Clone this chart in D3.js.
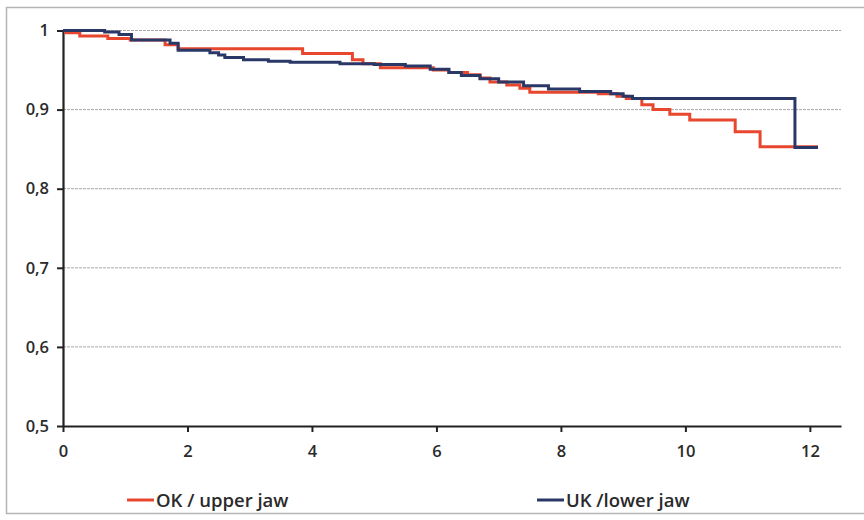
<!DOCTYPE html>
<html>
<head>
<meta charset="utf-8">
<script src="https://cdn.jsdelivr.net/npm/d3@7"></script>
<style>
  html, body { margin: 0; padding: 0; background: #fff; }
  svg { display: block; }
  text { font-family: "Open Sans", "DejaVu Sans", sans-serif; font-weight: 600; }
</style>
</head>
<body>
<svg id="chart" width="864" height="520"></svg>
<script>
// ---- data ----
const xTicks = [0, 2, 4, 6, 8, 10, 12];
const yTicks = [0.5, 0.6, 0.7, 0.8, 0.9, 1.0];
const yTickLabels = ["0,5", "0,6", "0,7", "0,8", "0,9", "1"];

const seriesNames = ["OK / upper jaw", "UK /lower jaw"];

const redTime = [0, 0.05, 0.27, 0.72, 1.08, 1.64, 1.85, 3.85, 4.65, 4.82, 5.1, 5.95, 6.2, 6.5, 6.7, 6.86, 7.13, 7.34, 7.5, 8.6, 8.9, 9.05, 9.3, 9.48, 9.75, 10.07, 10.8, 11.2, 12.13];
const redSurv = [1.0, 0.997, 0.993, 0.990, 0.988, 0.982, 0.977, 0.971, 0.963, 0.958, 0.953, 0.950, 0.947, 0.944, 0.940, 0.935, 0.931, 0.927, 0.922, 0.920, 0.917, 0.914, 0.906, 0.900, 0.894, 0.887, 0.872, 0.853, 0.853];

const blueTime = [0, 0.67, 0.9, 1.1, 1.72, 1.85, 2.36, 2.5, 2.6, 2.9, 3.3, 3.65, 4.45, 5.0, 5.5, 5.9, 6.2, 6.4, 6.7, 7.0, 7.4, 7.8, 8.3, 8.8, 9.0, 9.15, 11.76, 12.13];
const blueSurv = [1.0, 0.998, 0.995, 0.988, 0.984, 0.975, 0.972, 0.969, 0.966, 0.963, 0.961, 0.960, 0.958, 0.957, 0.955, 0.951, 0.947, 0.943, 0.939, 0.935, 0.930, 0.926, 0.923, 0.920, 0.917, 0.914, 0.852, 0.852];

const colors = ["#e8472e", "#2a3868"];

// ---- drawing ----
const svg = d3.select("#chart");

// outer frame
svg.append("rect")
  .attr("x", 6.5).attr("y", 7.5)
  .attr("width", 880).attr("height", 506)
  .attr("fill", "#fff")
  .attr("stroke", "#b5b5b5").attr("stroke-width", 1.5);

const x = d3.scaleLinear().domain([0, 12.5]).range([63, 841]);
const y = d3.scaleLinear().domain([0.5, 1.0]).range([426, 30.5]);

// gridlines
svg.append("g")
  .selectAll("line")
  .data(yTicks.filter(v => v > 0.5))
  .join("line")
  .attr("x1", x(0)).attr("x2", x(12.5))
  .attr("y1", d => y(d)).attr("y2", d => y(d))
  .attr("stroke", "#a8a8a8")
  .attr("stroke-width", 1)
  .attr("stroke-dasharray", "3,1");

// y axis
const yAxis = d3.axisLeft(y)
  .tickValues(yTicks)
  .tickFormat((d, i) => yTickLabels[i])
  .tickSize(6).tickSizeOuter(0).tickPadding(8);
const gy = svg.append("g").attr("transform", `translate(${x(0)},0)`).call(yAxis);
gy.select(".domain").attr("stroke", "#222").attr("stroke-width", 2.2);
gy.selectAll(".tick line").attr("stroke", "#222").attr("stroke-width", 2);
gy.selectAll(".tick text").attr("font-size", 16.5).attr("fill", "#2a2a2a")
  .attr("font-family", "Open Sans, DejaVu Sans, sans-serif").attr("font-weight", 600);

// x axis
const xAxis = d3.axisBottom(x)
  .tickValues(xTicks)
  .tickFormat(d3.format("d"))
  .tickSize(6).tickSizeOuter(0).tickPadding(13);
const gx = svg.append("g").attr("transform", `translate(0,${y(0.5)})`).call(xAxis);
gx.select(".domain").attr("stroke", "#222").attr("stroke-width", 2.2);
gx.selectAll(".tick line").attr("stroke", "#222").attr("stroke-width", 2);
gx.selectAll(".tick text").attr("font-size", 16.5).attr("fill", "#2a2a2a")
  .attr("font-family", "Open Sans, DejaVu Sans, sans-serif").attr("font-weight", 600);

// survival step curves
const line = d3.line()
  .x(d => x(d[0]))
  .y(d => y(d[1]))
  .curve(d3.curveStepAfter);

const series = [
  d3.zip(redTime, redSurv),
  d3.zip(blueTime, blueSurv)
];

svg.append("g")
  .selectAll("path")
  .data(series)
  .join("path")
  .attr("d", line)
  .attr("fill", "none")
  .attr("stroke", (d, i) => colors[i])
  .attr("stroke-width", 3)
  .attr("stroke-linejoin", "miter");

// legend
const legendX = [127, 537];
const leg = svg.append("g")
  .selectAll("g")
  .data(seriesNames)
  .join("g")
  .attr("transform", (d, i) => `translate(${legendX[i]},500)`);
leg.append("line")
  .attr("x1", 0).attr("x2", 27)
  .attr("y1", 0).attr("y2", 0)
  .attr("stroke", (d, i) => colors[i])
  .attr("stroke-width", 3);
leg.append("text")
  .attr("x", 29).attr("y", 6.5)
  .attr("font-size", 18.5)
  .attr("fill", "#2a2a2a")
  .text(d => d);
</script>
</body>
</html>
